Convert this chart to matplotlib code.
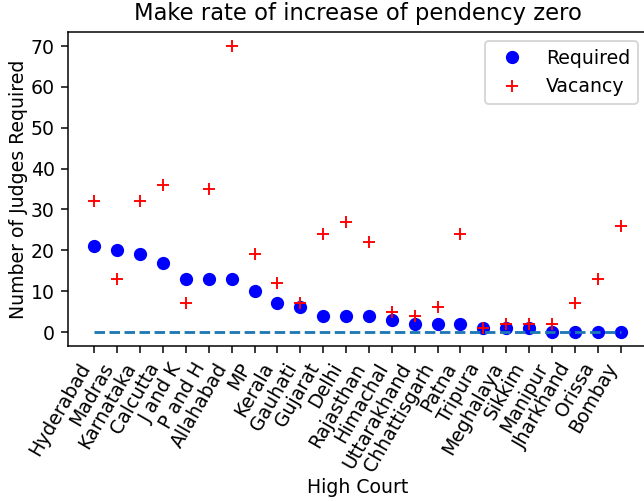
import matplotlib
matplotlib.use("Agg")
import matplotlib.pyplot as plt
import numpy as np

courts = ["Hyderabad", "Madras", "Karnataka", "Calcutta", "J and K", "P and H",
          "Allahabad", "MP", "Kerala", "Gauhati", "Gujarat", "Delhi", "Rajasthan",
          "Himachal", "Uttarakhand", "Chhattisgarh", "Patna", "Tripura",
          "Meghalaya", "Sikkim", "Manipur", "Jharkhand", "Orissa", "Bombay"]
required = [21, 20, 19, 17, 13, 13, 13, 10, 7, 6, 4, 4, 4, 3, 2, 2, 2, 1, 1, 1, 0, 0, 0, 0]
vacancy = [32, 13, 32, 36, 7, 35, 70, 19, 12, 7, 24, 27, 22, 5, 4, 6, 24, 1, 2, 2, 2, 7, 13, 26]

W, H, DPI = 644, 501, 136
fig = plt.figure(figsize=(W / DPI, H / DPI), dpi=DPI)
ax = fig.add_axes([68 / W, 1 - 346.3 / H, (647 - 68) / W, (346.3 - 31.7) / H])

x = np.arange(len(courts))
ax.plot(x, required, "bo", label="Required")
ax.plot(x, vacancy, "r+", label="Vacancy")
ax.plot(x, np.zeros(len(courts)), "--")

ax.set_xticks(x)
ax.set_xticklabels(courts, rotation=60, ha="right")
ax.set_title("Make rate of increase of pendency zero")
ax.set_xlabel("High Court", labelpad=1.5)
ax.set_ylabel("Number of Judges Required", labelpad=1.5)
ax.legend(loc="upper right")

fig.savefig("out.png", dpi=DPI)
